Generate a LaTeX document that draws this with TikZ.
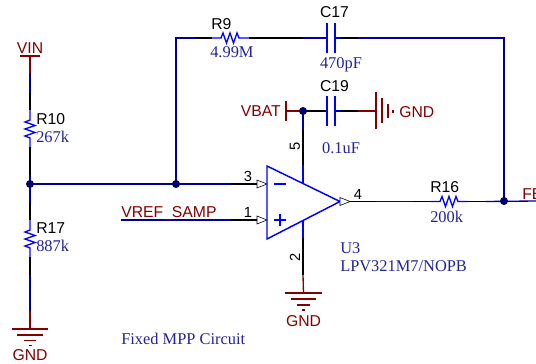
\documentclass[tikz,border=0pt]{standalone}
\usepackage{fontspec}
\setmainfont{Liberation Serif}
\setsansfont{Liberation Sans}
\definecolor{wnavy}{RGB}{0,0,150}
\definecolor{cblue}{RGB}{0,0,255}
\definecolor{nred}{RGB}{130,0,0}
\definecolor{vtext}{RGB}{35,35,150}
\definecolor{dotc}{RGB}{0,0,110}
\tikzset{
 wnv/.style={draw=wnavy,line width=1pt},
 wbk/.style={draw=black,line width=1pt},
 wrd/.style={draw=nred,line width=1pt},
 cmp/.style={draw=cblue,line width=1pt,line join=miter},
 pinarrow/.style={draw=black,fill=white,line width=0.45pt},
 jdot/.style={circle,fill=dotc,inner sep=0pt,minimum size=6pt},
 reftxt/.style={font=\sffamily\fontsize{11.8}{12}\selectfont,text=black,inner sep=0pt,anchor=base west},
 pintxt/.style={font=\sffamily\fontsize{11}{11}\selectfont,text=black,inner sep=0pt},
 nettxt/.style={font=\sffamily\fontsize{11.8}{12}\selectfont,text=nred,inner sep=0pt,anchor=base west},
 valtxt/.style={font=\rmfamily\fontsize{12.3}{13}\selectfont,text=vtext,inner sep=0pt,anchor=base west},
}
\begin{document}
\begin{tikzpicture}[x=0.75pt,y=-0.75pt]
\useasboundingbox (0,0) rectangle (536,364);
\clip (0,0) rectangle (536,364);
% named points
\coordinate (vin) at (30,56);
\coordinate (ja) at (30,184);
\coordinate (jb) at (176,184);
\coordinate (tl) at (176,38);
\coordinate (tr) at (504,38);
\coordinate (jc) at (504,201);
\coordinate (inm) at (267,184);
\coordinate (inp) at (267,220);
\coordinate (vref) at (121,220);
\coordinate (out) at (340,201.5);
\coordinate (jd) at (303,111);
\coordinate (gl) at (30,328);
\coordinate (gm) at (303.5,293);
\coordinate (gr) at (376,111);
\coordinate (vb) at (286,111);
\coordinate (fb) at (536,201);
% wires
\draw[wrd] (vin) -- (30,73);
\draw[wnv] (30,73) -- (30,93);
\draw[wbk] (30,93) -- (30,110);
\draw[wbk] (30,147) -- (30,175);
\draw[wnv] (30,175) -- (ja);
\draw[wnv] (ja) -- (30,203);
\draw[wbk] (30,203) -- (30,220);
\draw[wbk] (30,257) -- (30,275);
\draw[wnv] (30,275) -- (30,311);
\draw[wrd] (30,311) -- (gl);
\draw[wnv] (ja) -- (231,184);
\draw[wbk] (231,184) -- (257,184);
\draw[wnv] (jb) -- (tl) -- (195,38);
\draw[wbk] (195,38) -- (212,38);
\draw[wbk] (249,38) -- (303,38);
\draw[wnv] (303,38) -- (327,38);
\draw[wnv] (335,38) -- (341,38);
\draw[wbk] (341,38) -- (358,38);
\draw[wnv] (358,38) -- (tr) -- (jc);
\draw[wnv] (vref) -- (231,220);
\draw[wbk] (231,220) -- (257,220);
\draw[wbk] (350,201.5) -- (376,201.5);
\draw[wnv] (376,201.5) -- (413,201.5);
\draw[wbk] (413,201.5) -- (431,201.5);
\draw[wbk] (468,201.5) -- (486,201.5);
\draw[wnv] (486,201.5) -- (fb);
\draw[wrd] (vb) -- (jd);
\draw[wbk] (jd) -- (325,111);
\draw[wnv] (325,111) -- (327,111);
\draw[wnv] (335,111) -- (341,111);
\draw[wbk] (341,111) -- (358,111);
\draw[wrd] (358,111) -- (gr);
\draw[wnv] (jd) -- (303,130);
\draw[wbk] (303,130) -- (303,165);
\draw[cmp] (303,165) -- (303,183);
\draw[cmp] (303,221) -- (303,238);
\draw[wbk] (303,238) -- (303,275);
\draw[wrd] (303,275) -- (gm);
% resistors
\draw[cmp] (30,110) -- (30,120) -- (25,122) -- (35,125.5) -- (25,129) -- (35,132.5) -- (25,136) -- (30,138) -- (30,147);
\draw[cmp] (30,220) -- (30,230) -- (25,232) -- (35,235.5) -- (25,239) -- (35,242.5) -- (25,246) -- (30,248) -- (30,257);
\draw[cmp] (212,38) -- (221,38) -- (223,33) -- (226.5,43) -- (230,33) -- (233.5,43) -- (237,33) -- (239,38) -- (249,38);
\draw[cmp] (431,201.5) -- (440,201.5) -- (442,196.5) -- (445.5,206.5) -- (449,196.5) -- (452.5,206.5) -- (456,196.5) -- (458,201.5) -- (468,201.5);
% capacitors
\draw[cmp] (327,23) -- (327,53) (335,23) -- (335,53);
\draw[cmp] (327,96) -- (327,126) (335,96) -- (335,126);
% power symbols
\draw[wrd,line width=1pt] (20,56) -- (40,56);
\draw[wrd,line width=1pt] (286,101) -- (286,121);
\draw[wrd,line width=1pt] (12,329) -- (48,329) (17,335) -- (43,335) (24,340.5) -- (36,340.5) (28.5,345.5) -- (31.5,345.5);
\draw[wrd,line width=1pt] (285,293) -- (322,293) (291,299) -- (316,299) (297,305) -- (310,305) (301.5,310) -- (305,310);
\draw[wrd,line width=1pt] (376,92) -- (376,129) (382,98) -- (382,123) (388,104) -- (388,118) (393,109.5) -- (393,112.5);
% op amp
\draw[cmp,line width=1.1pt] (267,166) -- (267,239) -- (out) -- cycle;
\draw[cmp,line width=1.1pt] (274,184) -- (286,184) (274,220) -- (286,220) (280,214) -- (280,226);
% pin arrows
\draw[pinarrow] (257,180) -- (267,184) -- (257,188) -- cycle;
\draw[pinarrow] (257,216) -- (267,220) -- (257,224) -- cycle;
\draw[pinarrow] (340,197.5) -- (350,201.5) -- (340,205.5) -- cycle;
% junctions
\node[jdot] (dota) at (ja) {};
\node[jdot] (dotb) at (jb) {};
\node[jdot] (dotc) at (jc) {};
\node[jdot] (dotd) at (jd) {};
% text
\node[nettxt,anchor=base] (tvin) at (30,53) {VIN};
\node[reftxt] (r10) at (36,124) {R10};
\node[valtxt] (v10) at (36,142) {267k};
\node[reftxt] (r17) at (36,233) {R17};
\node[valtxt] (v17) at (36,251) {887k};
\node[nettxt,anchor=base] (tg1) at (30,360) {GND};
\node[reftxt] (r9) at (211,29) {R9};
\node[valtxt] (v9) at (210,57) {4.99M};
\node[reftxt,anchor=base] (c17) at (334.5,17) {C17};
\node[valtxt,anchor=base] (v17c) at (341,68) {470pF};
\node[reftxt,anchor=base] (c19) at (334.5,91) {C19};
\node[valtxt,anchor=base] (v19) at (341,153) {0.1uF};
\node[nettxt,anchor=base east] (tvb) at (281,116) {VBAT};
\node[nettxt] (tg2) at (399,117) {GND};
\node[nettxt] (tvr) at (121,217) {VREF\_SAMP};
\node[nettxt,anchor=base] (tg3) at (303.5,326) {GND};
\node[nettxt] (tfb) at (522,199) {FB};
\node[reftxt] (r16) at (430,192) {R16};
\node[valtxt] (v16) at (430,222) {200k};
\node[valtxt] (u3) at (340,253) {U3};
\node[valtxt] (lpv) at (340,271) {LPV321M7/NOPB};
\node[valtxt] (cap) at (121,344) {Fixed MPP Circuit};
\node[pintxt] (p3) at (248,176.5) {3};
\node[pintxt] (p1) at (248,212) {1};
\node[pintxt] (p4) at (358,194) {4};
\node[pintxt,rotate=90] (p5) at (295,146) {5};
\node[pintxt,rotate=90] (p2) at (295,257) {2};
\end{tikzpicture}
\end{document}
